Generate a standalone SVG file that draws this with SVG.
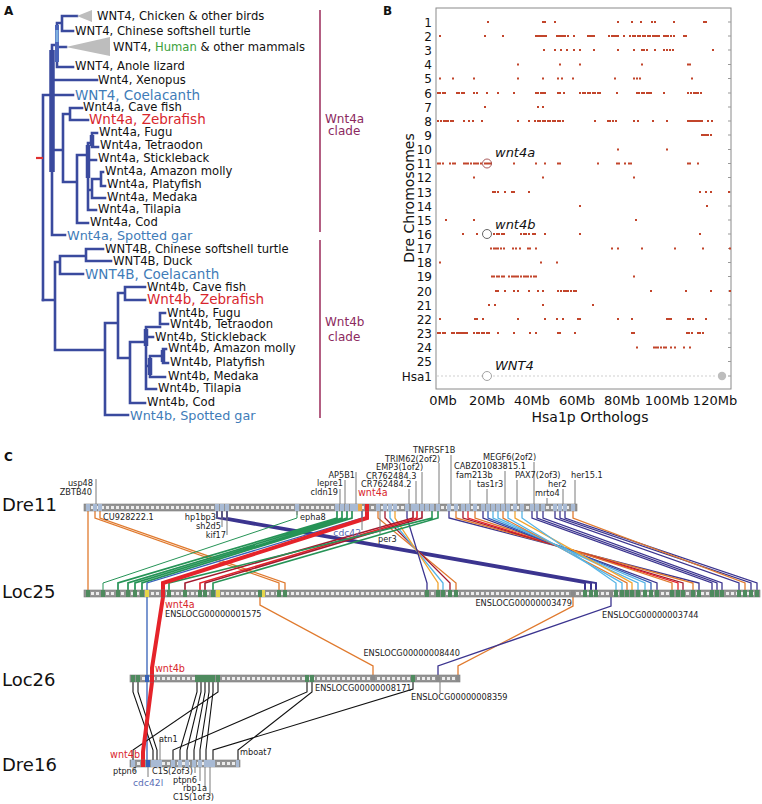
<svg xmlns="http://www.w3.org/2000/svg" width="762" height="804" viewBox="0 0 762 804">
<style>
text{font-family:"DejaVu Sans","Liberation Sans",sans-serif}
.pl{font-weight:bold;font-size:12px;fill:#111}
.t{font-size:11.6px;fill:#111}
.tb{font-size:13.5px;fill:#3f7cb8}
.tb13{font-size:12.8px;fill:#3f7cb8}
.tr{font-size:13.5px;fill:#d8262d}
.cl{font-size:12px;fill:#8c2a60}
.tree{fill:none;stroke:#3a4a9e;stroke-width:2.6;stroke-linecap:square}
.ax{font-size:12px;fill:#111}
.ax13{font-size:13px;fill:#111}
.it{font-size:13px;font-style:italic;fill:#111}
.dot{fill:none;stroke:#c2452b;stroke-width:2}
.c{font-size:8.2px;fill:#222}
.cr{font-size:9.6px;fill:#d8262d}
.cb{font-size:9.2px;fill:#5a6db5}
.trk{font-size:18px;fill:#111}
.tick{stroke:#7a7a7a;stroke-width:1;fill:none}
.cn{fill:none;stroke-width:1.3}
.or{stroke:#e07a2e}.yo{stroke:#f2a531}.lb{stroke:#55b4e6}.dr{stroke:#a3192e}.rd{stroke:#e5232a}.nv{stroke:#3b348f}.bl{stroke:#3561b8}.gr{stroke:#259356}.bk{stroke:#111;stroke-width:1.1}
.bar{fill:#949494;stroke:#7a7a7a;stroke-width:0.6}
.dash{stroke:#ececec;stroke-width:3;stroke-dasharray:3 2;fill:none}
.sq{fill:none;stroke-width:7}
</style>

<!-- Panel A -->
<g id="panelA">
<text class="pl" x="4" y="15">A</text>
<g id="tree">
<path class="tree" d="M62,16 H77 M62,16 V31 H73 M57,23 H62 M57,47 H66 M57,23 V67 H73 M52,45 H57 M52,80 H97 M43,95 H73 M52,45 V235 H65 M52,150 H63 M63,114 V182 M63,114 H70 M70,108 V120 M70,108 H82 M70,120 H88 M63,182 H77 M77,155 V223 H88 M77,155 H88 M88,143 V210 M88,143 H92 M92,133 V147 M92,133 H97 M92,147 H98 M88,160 H96 M88,190 H92 M92,179 V198 M92,179 H101 M101,172 V186 M101,172 H103 M101,186 H105 M92,198 H105 M88,210 H96 M43,95 V300"/>
<path class="tree" d="M43,300 H55 M55,262 V350 M55,262 H60 M60,256 V274 M60,256 H86 M86,249 V261 M86,249 H103 M86,261 H111 M60,274 H83 M55,350 H105 M105,323 V415 H128 M105,323 H118 M118,293 V358 M118,293 H125 M125,287 V300 M125,287 H145 M125,300 H145 M118,358 H130 M130,342 V403 H145 M130,342 H146 M146,327 V389 M146,327 H160 M160,313 V324 M160,313 H165 M160,324 H168 M146,337 H153 M146,366 H150 M150,356 V377 M150,356 H163 M163,349 V363 M163,349 H166 M163,363 H168 M150,377 H165 M146,389 H156"/>
<path d="M52,50 V172" stroke="#3a4a9e" stroke-width="5.5" fill="none"/>
<path d="M57,25 V62" stroke="#4a63b8" stroke-width="4" fill="none"/>
<path d="M57,30 V42" stroke="#7fb0e0" stroke-width="3" fill="none"/>
<path d="M88,145 V178 M92,135 V146 M146,329 V346 M150,358 V375 M163,350 V362" stroke="#3a4a9e" stroke-width="4.5" fill="none"/>
<path d="M36,158 H43" stroke="#e03030" stroke-width="2.2"/>
<polygon points="77,16 92,10 92,22" fill="#bdbdbd"/>
<polygon points="66,47 110,37 110,56" fill="#bdbdbd"/>
</g>
<g id="leavesA">
<text class="t" x="97" y="20">WNT4, Chicken &amp; other birds</text>
<text class="t" x="75" y="35">WNT4, Chinese softshell turtle</text>
<text class="t" x="113" y="51">WNT4, <tspan fill="#3aa03a">Human</tspan> &amp; other mammals</text>
<text class="t" x="75" y="70">WNT4, Anole lizard</text>
<text class="t" x="98" y="84">Wnt4, Xenopus</text>
<text class="tb" x="75" y="99.5">WNT4, Coelacanth</text>
<text class="t" x="83" y="111">Wnt4a, Cave fish</text>
<text class="tr" x="89" y="123.5">Wnt4a, Zebrafish</text>
<text class="t" x="99" y="135.5">Wnt4a, Fugu</text>
<text class="t" x="100" y="149">Wnt4a, Tetraodon</text>
<text class="t" x="98" y="162">Wnt4a, Stickleback</text>
<text class="t" x="105" y="175">Wnt4a, Amazon molly</text>
<text class="t" x="107" y="188">Wnt4a, Platyfish</text>
<text class="t" x="107" y="201">Wnt4a, Medaka</text>
<text class="t" x="98" y="213">Wnt4a, Tilapia</text>
<text class="t" x="90" y="226">Wnt4a, Cod</text>
<text class="tb13" x="67" y="239.5">Wnt4a, Spotted gar</text>
<text class="t" x="105" y="253">WNT4B, Chinese softshell turtle</text>
<text class="t" x="113" y="265">WNT4B, Duck</text>
<text class="tb" x="85" y="278.5">WNT4B, Coelacanth</text>
<text class="t" x="147" y="290.5">Wnt4b, Cave fish</text>
<text class="tr" x="147" y="303.5">Wnt4b, Zebrafish</text>
<text class="t" x="167" y="317">Wnt4b, Fugu</text>
<text class="t" x="170" y="328">Wnt4b, Tetraodon</text>
<text class="t" x="155" y="341">Wnt4b, Stickleback</text>
<text class="t" x="168" y="352">Wnt4b, Amazon molly</text>
<text class="t" x="170" y="366">Wnt4b, Platyfish</text>
<text class="t" x="168" y="380">Wnt4b, Medaka</text>
<text class="t" x="158" y="392">Wnt4b, Tilapia</text>
<text class="t" x="147" y="406">Wnt4b, Cod</text>
<text class="tb13" x="130" y="419.5">Wnt4b, Spotted gar</text>
</g>
<g id="clades">
<path d="M320,10 V232 M320,240 V418" stroke="#9a2a5a" stroke-width="1.5"/>
<text class="cl" x="325" y="123">Wnt4a</text>
<text class="cl" x="328" y="135">clade</text>
<text class="cl" x="325" y="326">Wnt4b</text>
<text class="cl" x="328" y="341">clade</text>
</g>
</g>

<!-- Panel B -->
<g id="panelB">
<text class="pl" x="383" y="15">B</text>
<rect x="436" y="8" width="295" height="381" fill="none" stroke="#8a8a8a" stroke-width="1"/>
<path d="M728 22h3M728 36h3M728 50h3M728 64.5h3M728 78.5h3M728 93h3M728 107h3M728 121h3M728 135h3M728 149.5h3M728 163.5h3M728 177.5h3M728 192h3M728 206h3M728 220h3M728 234h3M728 248.5h3M728 262.5h3M728 276.5h3M728 291h3M728 305h3M728 319h3M728 333h3M728 347.5h3M728 361.5h3M728 376h3" stroke="#999" stroke-width="1"/>
<g id="ylabels" text-anchor="end">
<text class="ax" x="432" y="26.5">1</text><text class="ax" x="432" y="40.5">2</text><text class="ax" x="432" y="54.5">3</text><text class="ax" x="432" y="69">4</text><text class="ax" x="432" y="83">5</text><text class="ax" x="432" y="97.5">6</text><text class="ax" x="432" y="111.5">7</text><text class="ax" x="432" y="125.5">8</text><text class="ax" x="432" y="139.5">9</text><text class="ax" x="432" y="154">10</text><text class="ax" x="432" y="168">11</text><text class="ax" x="432" y="182">12</text><text class="ax" x="432" y="196.5">13</text><text class="ax" x="432" y="210.5">14</text><text class="ax" x="432" y="224.5">15</text><text class="ax" x="432" y="238.5">16</text><text class="ax" x="432" y="253">17</text><text class="ax" x="432" y="267">18</text><text class="ax" x="432" y="281">19</text><text class="ax" x="432" y="295.5">20</text><text class="ax" x="432" y="309.5">21</text><text class="ax" x="432" y="323.5">22</text><text class="ax" x="432" y="337.5">23</text><text class="ax" x="432" y="352">24</text><text class="ax" x="432" y="366">25</text><text class="ax" x="432" y="380.5">Hsa1</text>
</g>
<text class="ax13" x="0" y="0" text-anchor="middle" transform="translate(414,198) rotate(-90)" style="font-size:14px">Dre Chromosomes</text>
<g id="xlabels" text-anchor="middle">
<text class="ax13" x="443" y="405">0Mb</text><text class="ax13" x="487" y="405">20Mb</text><text class="ax13" x="532" y="405">40Mb</text><text class="ax13" x="577" y="405">60Mb</text><text class="ax13" x="622" y="405">80Mb</text><text class="ax13" x="667" y="405">100Mb</text><text class="ax13" x="715" y="405">120Mb</text>
<text class="ax13" x="590" y="422" style="font-size:14px">Hsa1p Orthologs</text>
</g>
<g id="dots">
<path class="dot" d="M487 22h2M542 22h2M544 22h2M554 22h2M617 22h2M631 22h2M640 22h2M651 22h2M654 22h2M673 22h2M703 22h2M705 22h2"/>
<path class="dot" d="M439 36h2M484 36h2M502 36h2M535 36h2M537 36h2M539 36h2M541 36h2M543 36h2M545 36h2M556 36h2M558 36h2M560 36h2M562 36h2M564 36h2M567 36h2M573 36h2M587 36h2M589 36h2M591 36h2M593 36h2M608 36h2M611 36h2M613 36h2M615 36h2M617 36h2M623 36h2M629 36h2M632 36h2M634 36h2M637 36h2M639 36h2M642 36h2M644 36h2M647 36h2M649 36h2M652 36h2M654 36h2M656 36h2M658 36h2M663 36h2M665 36h2M667 36h2M670 36h2M673 36h2M683 36h2M685 36h2"/>
<path class="dot" d="M543 50h2M554 50h2M560 50h2M566 50h2M573 50h2M579 50h2M593 50h2M617 50h2M633 50h2M641 50h2M643 50h2M646 50h2M654 50h2M663 50h2M666 50h2M669 50h2M672 50h2M712 50h2"/>
<path class="dot" d="M517 64.5h2M559 64.5h2M579 64.5h2M641 64.5h2M687 64.5h2M689 64.5h2"/>
<path class="dot" d="M439 78.5h2M452 78.5h2M473 78.5h2M517 78.5h2M542 78.5h2M557 78.5h2M561 78.5h2M572 78.5h2M614 78.5h2M633 78.5h2M636 78.5h2M639 78.5h2M691 78.5h2"/>
<path class="dot" d="M437 93h2M439 93h2M442 93h2M444 93h2M456 93h2M458 93h2M461 93h2M463 93h2M473 93h2M476 93h2M486 93h2M497 93h2M513 93h2M535 93h2M537 93h2M540 93h2M542 93h2M544 93h2M557 93h2M559 93h2M563 93h2M579 93h2M582 93h2M584 93h2M587 93h2M589 93h2M592 93h2M594 93h2M597 93h2M599 93h2M616 93h2M636 93h2M638 93h2M641 93h2M643 93h2M646 93h2M648 93h2M650 93h2M663 93h2M687 93h2M690 93h2M693 93h2M695 93h2M697 93h2M700 93h2"/>
<path class="dot" d="M484 107h2M537 107h2M542 107h2"/>
<path class="dot" d="M437 121h2M440 121h2M443 121h2M445 121h2M447 121h2M450 121h2M452 121h2M463 121h2M468 121h2M472 121h2M481 121h2M517 121h2M528 121h2M534 121h2M537 121h2M539 121h2M542 121h2M544 121h2M547 121h2M549 121h2M552 121h2M554 121h2M557 121h2M559 121h2M562 121h2M594 121h2M607 121h2M609 121h2M612 121h2M615 121h2M633 121h2M637 121h2M652 121h2M666 121h2M687 121h2M689 121h2M691 121h2M693 121h2M695 121h2M697 121h2M699 121h2M701 121h2M707 121h2M711 121h2"/>
<path class="dot" d="M701 135h2M703 135h2M705 135h2M707 135h2M710 135h2"/>
<path class="dot" d="M617 149.5h2M666 149.5h2"/>
<path class="dot" d="M437 163.5h2M439 163.5h2M442 163.5h2M449 163.5h2M452 163.5h2M454 163.5h2M463 163.5h2M465 163.5h2M467 163.5h2M470 163.5h2M473 163.5h2M475 163.5h2M477 163.5h2M480 163.5h2M484 163.5h2M486 163.5h2M488 163.5h2M490 163.5h2M513 163.5h2M535 163.5h2M544 163.5h2M557 163.5h2M559 163.5h2M597 163.5h2M616 163.5h2M618 163.5h2M624 163.5h2M628 163.5h2M630 163.5h2M687 163.5h2M689 163.5h2M697 163.5h2"/>
<path class="dot" d="M473 177.5h2M542 177.5h2M633 177.5h2"/>
<path class="dot" d="M492 192h2M494 192h2M497 192h2M504 192h2M511 192h2M513 192h2M528 192h2M699 192h2M705 192h2M710 192h2M728 192h2"/>
<path class="dot" d="M579 206h2M706 206h2"/>
<path class="dot" d="M445 220h2M473 220h2M635 220h2"/>
<path class="dot" d="M462 234h2M476 234h2M493 234h2M496 234h2M498 234h2M501 234h2M503 234h2M520 234h2M523 234h2M525 234h2M528 234h2M532 234h2M534 234h2M544 234h2M579 234h2M699 234h2"/>
<path class="dot" d="M490 248.5h2M493 248.5h2M495 248.5h2M497 248.5h2M500 248.5h2M503 248.5h2M512 248.5h2M515 248.5h2M519 248.5h2M527 248.5h2M529 248.5h2M535 248.5h2M611 248.5h2M617 248.5h2M641 248.5h2M674 248.5h2M702 248.5h2M729 248.5h2"/>
<path class="dot" d="M439 262.5h2M540 262.5h2M556 262.5h2"/>
<path class="dot" d="M491 276.5h2M493 276.5h2M496 276.5h2M498 276.5h2M501 276.5h2M503 276.5h2M508 276.5h2M511 276.5h2M513 276.5h2M515 276.5h2M517 276.5h2M520 276.5h2M523 276.5h2M525 276.5h2M527 276.5h2M530 276.5h2M533 276.5h2M535 276.5h2M633 276.5h2"/>
<path class="dot" d="M495 291h2M497 291h2M504 291h2M513 291h2M517 291h2M528 291h2M537 291h2M542 291h2M557 291h2M560 291h2M563 291h2M565 291h2M567 291h2M570 291h2M573 291h2M575 291h2M650 291h2M685 291h2M710 291h2M729 291h2"/>
<path class="dot" d="M488 305h2M494 305h2M542 305h2M592 305h2"/>
<path class="dot" d="M439 319h2M474 319h2M476 319h2M482 319h2M517 319h2M544 319h2M556 319h2M562 319h2M577 319h2M579 319h2M617 319h2M631 319h2M666 319h2M668 319h2M670 319h2M687 319h2M689 319h2M692 319h2M705 319h2"/>
<path class="dot" d="M437 333h2M439 333h2M442 333h2M444 333h2M451 333h2M453 333h2M456 333h2M458 333h2M460 333h2M462 333h2M464 333h2M466 333h2M473 333h2M476 333h2M478 333h2M481 333h2M483 333h2M486 333h2M488 333h2M497 333h2M513 333h2M529 333h2M535 333h2M557 333h2M559 333h2M574 333h2M631 333h2M633 333h2M686 333h2M688 333h2M691 333h2M697 333h2M699 333h2M702 333h2"/>
<path class="dot" d="M636 347.5h2M653 347.5h2M655 347.5h2M657 347.5h2M660 347.5h2M663 347.5h2M665 347.5h2M670 347.5h2M674 347.5h2M683 347.5h2M689 347.5h2"/>
</g>
<path d="M437,376 H717" stroke="#cfcfcf" stroke-width="1.2" stroke-dasharray="2 2"/>
<circle cx="487" cy="163.5" r="4.5" fill="none" stroke="#a04848" stroke-width="0.9"/>
<circle cx="487" cy="234" r="4.5" fill="none" stroke="#555" stroke-width="0.9"/>
<circle cx="487" cy="376" r="4.5" fill="#fff" stroke="#999" stroke-width="0.9"/>
<circle cx="722" cy="376" r="4.2" fill="#bdbdbd"/>
<text class="it" x="495" y="157">wnt4a</text>
<text class="it" x="495" y="229">wnt4b</text>
<text class="it" x="495" y="370">WNT4</text>
</g>

<!-- Panel C -->
<g id="panelC">
<text class="pl" x="4" y="461">C</text>
<text class="trk" x="2" y="511">Dre11</text>
<text class="trk" x="2" y="598">Loc25</text>
<text class="trk" x="2" y="686">Loc26</text>
<text class="trk" x="2" y="771">Dre16</text>

<g id="connectors">
<path class="cn or" d="M88,511 V590"/>
<path class="cn or" stroke-width="1.6" d="M95,511 V518 L279,583 V590 M100,511 V518 L285,583 V590"/>
<path class="cn nv" style="stroke-width:2" d="M217,511 V518 L585,583 V590 M222,511 V518 L591,583 V590 M227,511 V518 L596,583 V590"/>
<path class="cn gr" style="stroke-width:1" d="M297,511 V518 L103,583 V590"/>
<path class="cn gr" style="stroke-width:1.7" d="M337,511 V518 L118,583 V590 M342,511 V518 L128,583 V590 M347,511 V518 L135,583 V590 M352,511 V518 L142,583 V590"/>
<path class="cn bl" d="M362,511 V518 L147,583 V760"/>
<path class="cn or" d="M378,511 V518 L456,583 V590"/>
<path class="cn dr" d="M385,511 V518 L450,583 V590"/>
<path class="cn lb" d="M390,511 V518 L443,583 V590"/>
<path class="cn yo" d="M395,511 V518 L438,583 V590"/>
<path class="cn nv" d="M407,511 V518 L427,583 V590"/>
<path class="cn dr" style="stroke-width:1.6" d="M413,511 V518 L185,583 V590"/>
<path class="cn rd" style="stroke-width:1.6" d="M417,511 V518 L200,583 V590"/>
<path class="cn dr" style="stroke-width:1.6" d="M422,511 V518 L205,583 V590"/>
<path class="cn gr" style="stroke-width:1.6" d="M432,511 V518 L169,583 V590 M438,511 V518 L213,583 V590"/>
<path class="cn nv" d="M449,511 V518 L699,583 V590"/>
<path class="cn or" d="M456,511 V518 L693,583 V590"/>
<path class="cn dr" d="M463,511 V518 L683,583 V590"/>
<path class="cn rd" d="M468,511 V518 L678,583 V590"/>
<path class="cn or" d="M475,511 V518 L672,583 V590"/>
<path class="cn nv" d="M483,511 V518 L657,583 V590"/>
<path class="cn bl" d="M488,511 V518 L651,583 V590"/>
<path class="cn lb" d="M493,511 V518 L645,583 V590 M498,511 V518 L638,583 V590"/>
<path class="cn or" d="M503,511 V518 L627,583 V590"/>
<path class="cn lb" d="M508,511 V518 L622,583 V590"/>
<path class="cn yo" d="M515,511 V518 L632,583 V590"/>
<path class="cn lb" d="M522,511 V518 L616,583 V590"/>
<path class="cn nv" d="M532,511 V518 L712,583 V590 M537,511 V518 L717,583 V590 M543,511 V518 L722,583 V590 M555,511 V518 L739,583 V590 M560,511 V518 L751,583 V590 M565,511 V518 L757,583 V590"/>
<path class="cn or" d="M573,511 V518 L745,583 V590"/>
<path class="cn or" d="M260,597 V605 L373,666 V675 M573,597 V606 L458,666 V675"/>
<path class="cn nv" d="M611,597 V606 L438,666 V675"/>
<path class="cn bk" d="M133,682 V692 L153,750 V760 M138,682 V692 L157,750 V760 M197,682 V692 L180,750 V760 M201,682 V692 L187,750 V760 M205,682 V692 L194,750 V760 M209,682 V692 L200,750 V760 M213,682 V692 L206,750 V760 M218,682 V692 L133,750 V760 M307,682 V692 L173,750 V760 M312,682 V692 L238,750 V760 M413,682 V689 L213,750 V760"/>
<path class="cn rd" style="stroke-width:4" d="M367,511 V518 L163,583 V597 L152,668 V682 L143,752 V763"/>
</g>

<g id="ticks">
<path class="tick" d="M96,479 V504 M340,489 V504 M345,480 V504 M356,472 V504 M409,489 V504 M416,481 V504 M422,472 V504 M439,463 V504 M451,455 V504 M470,480 V504 M487,489 V504 M505,471 V504 M517,480 V504 M534,462 V504 M547,498 V504 M563,489 V504 M575,480 V504"/>
<path class="tick" d="M217,511 V519 M222,511 V527 M227,511 V535 M297,511 V515 M362,511 V530 M380,511 V534"/>
<path class="tick" d="M440,682 V693 M160,760 V738 M135,767 V772 M148,767 V777 M195,767 V773 M200,767 V781 M205,767 V788 M210,767 V796"/>
</g>

<g id="Dre11">
<rect class="bar" x="84" y="504" width="493" height="7"/>
<path class="dash" d="M86,507.5 H575"/>
<path class="sq" stroke="#a8bad4" d="M86,507.5h4M93,507.5h4M98,507.5h4M215,507.5h4M220,507.5h4M225,507.5h4M295,507.5h4M335,507.5h4M340,507.5h4M345,507.5h4M350,507.5h4M354,507.5h4M376,507.5h4M383,507.5h4M388,507.5h4M393,507.5h4M405,507.5h4M411,507.5h4M415,507.5h4M420,507.5h4M425,507.5h4M430,507.5h4M436,507.5h4M447,507.5h4M454,507.5h4M461,507.5h4M466,507.5h4M473,507.5h4M481,507.5h4M486,507.5h4M491,507.5h4M496,507.5h4M501,507.5h4M506,507.5h4M513,507.5h4M520,507.5h4M530,507.5h4M535,507.5h4M541,507.5h4M553,507.5h4M558,507.5h4M563,507.5h4M571,507.5h4"/>
<path class="sq" stroke="#e9a84a" d="M358,507.5h4"/>
<path class="sq" stroke="#e5232a" d="M365,507.5h4"/>
</g>
<g id="Loc25">
<rect class="bar" x="84" y="590" width="676" height="7"/>
<path class="dash" d="M86,593.5 H759"/>
<path class="sq" stroke="#4e8a5e" d="M86,593.5h4M101,593.5h4M116,593.5h4M126,593.5h4M133,593.5h4M140,593.5h4M167,593.5h4M183,593.5h4M198,593.5h4M203,593.5h4M211,593.5h4M258,593.5h4M277,593.5h4M283,593.5h4M425,593.5h4M436,593.5h4M441,593.5h4M448,593.5h4M454,593.5h4M583,593.5h4M589,593.5h4M594,593.5h4M614,593.5h4M620,593.5h4M625,593.5h4M630,593.5h4M636,593.5h4M643,593.5h4M649,593.5h4M655,593.5h4M670,593.5h4M676,593.5h4M681,593.5h4M691,593.5h4M697,593.5h4M710,593.5h4M715,593.5h4M720,593.5h4M737,593.5h4M743,593.5h4M749,593.5h4M755,593.5h4"/>
<path class="sq" stroke="#e6d54a" d="M145,593.5h4M216,593.5h4M262,593.5h3"/>
<path class="sq" stroke="#e5232a" d="M161,593.5h4"/>
<path class="sq" stroke="#8a8a8a" d="M571,593.5h4M609,593.5h4"/>
</g>
<g id="Loc26">
<rect class="bar" x="130" y="675" width="330" height="7"/>
<path class="dash" d="M132,678.5 H459"/>
<path class="sq" stroke="#4e8a5e" d="M131,678.5h4M136,678.5h4M195,678.5h4M199,678.5h4M203,678.5h4M207,678.5h4M211,678.5h4M216,678.5h4M305,678.5h4M310,678.5h4M411,678.5h4"/>
<path class="sq" stroke="#3561b8" d="M145,678.5h4"/>
<path class="sq" stroke="#e5232a" d="M150,678.5h4"/>
<path class="sq" stroke="#8a8a8a" d="M371,678.5h4M436,678.5h4M456,678.5h3"/>
</g>
<g id="Dre16">
<rect class="bar" x="130" y="760" width="110" height="7"/>
<path class="dash" d="M132,763.5 H239"/>
<path class="sq" stroke="#a8bad4" d="M131,763.5h4M151,763.5h4M155,763.5h4M158,763.5h4M171,763.5h4M178,763.5h4M185,763.5h4M192,763.5h4M198,763.5h4M204,763.5h4M208,763.5h4M211,763.5h4M236,763.5h3"/>
<path class="sq" stroke="#e5232a" d="M141,763.5h4"/>
<path class="sq" stroke="#3561b8" d="M146,763.5h4"/>
</g>

<g id="labelsC">
<text class="c" x="93" y="486" text-anchor="end">usp48</text>
<text class="c" x="92" y="495" text-anchor="end">ZBTB40</text>
<text class="c" x="103" y="520">CU928222.1</text>
<text class="c" x="216" y="520" text-anchor="end">hp1bp3</text>
<text class="c" x="221" y="529" text-anchor="end">sh2d5</text>
<text class="c" x="226" y="538" text-anchor="end">kif17</text>
<text class="c" x="300" y="520">epha8</text>
<text class="c" x="338" y="495" text-anchor="end">cldn19</text>
<text class="c" x="343" y="486" text-anchor="end">lepre1</text>
<text class="c" x="355" y="478" text-anchor="end">AP5B1</text>
<text class="cr" x="358" y="496">wnt4a</text>
<text class="cb" x="361" y="536" text-anchor="end">cdc42</text>
<text class="c" x="378" y="542">per3</text>
<text class="c" x="361" y="487">CR762484.2</text>
<text class="c" x="366" y="479">CR762484.3</text>
<text class="c" x="376" y="470">EMP3(1of2)</text>
<text class="c" x="385" y="462">TRIM62(2of2)</text>
<text class="c" x="413" y="453">TNFRSF1B</text>
<text class="c" x="483" y="460">MEGF6(2of2)</text>
<text class="c" x="454" y="469">CABZ01083815.1</text>
<text class="c" x="456" y="478">fam213b</text>
<text class="c" x="477" y="487">tas1r3</text>
<text class="c" x="515" y="478">PAX7(2of3)</text>
<text class="c" x="571" y="478">her15.1</text>
<text class="c" x="548" y="487">her2</text>
<text class="c" x="535" y="496">mrto4</text>
<text class="cr" x="165" y="608">wnt4a</text>
<text class="c" x="165" y="617">ENSLOCG00000001575</text>
<text class="c" x="572" y="606" text-anchor="end">ENSLOCG00000003479</text>
<text class="c" x="602" y="618">ENSLOCG00000003744</text>
<text class="c" x="460" y="656" text-anchor="end">ENSLOCG00000008440</text>
<text class="cr" x="155" y="672">wnt4b</text>
<text class="c" x="315" y="691">ENSLOCG00000008171</text>
<text class="c" x="411" y="700">ENSLOCG00000008359</text>
<text class="cr" x="140" y="758" text-anchor="end">wnt4b</text>
<text class="c" x="159" y="742">atn1</text>
<text class="c" x="240" y="755">mboat7</text>
<text class="c" x="113" y="774">ptpn6</text>
<text class="cb" x="133" y="786">cdc42l</text>
<text class="c" x="152" y="774">C1S(2of3)</text>
<text class="c" x="173" y="783">ptpn6</text>
<text class="c" x="183" y="791">rbp1a</text>
<text class="c" x="173" y="800">C1S(1of3)</text>
</g>
</g>
</svg>
